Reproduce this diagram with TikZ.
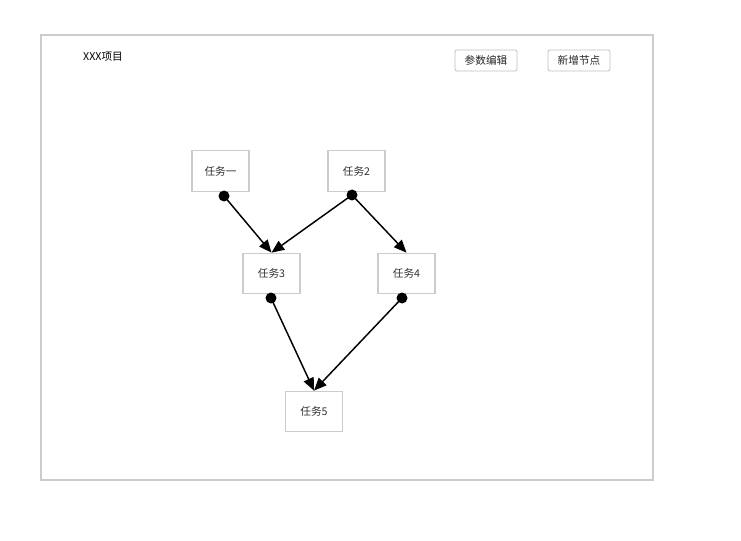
\documentclass[tikz,border=0pt]{standalone}
\usepackage{fontspec}
\setmainfont{Liberation Sans}
\newfontfamily\cjk{Noto Sans CJK SC}
\usetikzlibrary{arrows.meta}

\begin{document}
\begin{tikzpicture}[x=0.75pt,y=-0.75pt,
    task/.style={draw=black!20,line width=0.8pt,minimum width=42.75pt,minimum height=30.5pt,inner sep=0pt,font=\cjk\fontsize{8}{9.5}\selectfont,text=black!80},
    btn/.style={draw=black!25,line width=0.6pt,rounded corners=1.5pt,minimum width=46.5pt,minimum height=15.75pt,inner sep=0pt,font=\cjk\fontsize{8}{9.5}\selectfont,text=black!85},
    link/.style={line width=1.1pt,-{Triangle[length=9.5pt,width=8pt]}}]
        \useasboundingbox (0,0) rectangle (741,541);
        \draw[black!20,line width=0.8pt] (41,35) rectangle (653,480);
        \node(title) at (103,57) {\cjk\fontsize{8}{9.5}\selectfont XXX项目};
        \node[btn](edit) at (486,60.5) {参数编辑};
        \node[btn](add) at (579,60.5) {新增节点};
        \node[task](a) at (220.5,171) {任务一};
        \node[task](b) at (356.5,171) {任务2};
        \node[task](c) at (271.5,273.5) {任务3};
        \node[task](d) at (406.5,273.5) {任务4};
        \node[task](e) at (314,411.5) {任务5};
        % dots sit a little off the box centres
        \coordinate(pa) at (224,196);
        \coordinate(pb) at (352,195);
        \coordinate(pc) at (271,298);
        \coordinate(pd) at (402,298);
        \draw[link](pa)--(c.north);
        \draw[link](pb)--(c.north);
        \draw[link](pb)--(d.north);
        \draw[link](pc)--(e.north);
        \draw[link](pd)--(e.north);
        \foreach \p in {pa,pb,pc,pd}
            \fill(\p) circle (5.5);
        \end{tikzpicture}
\end{document}
